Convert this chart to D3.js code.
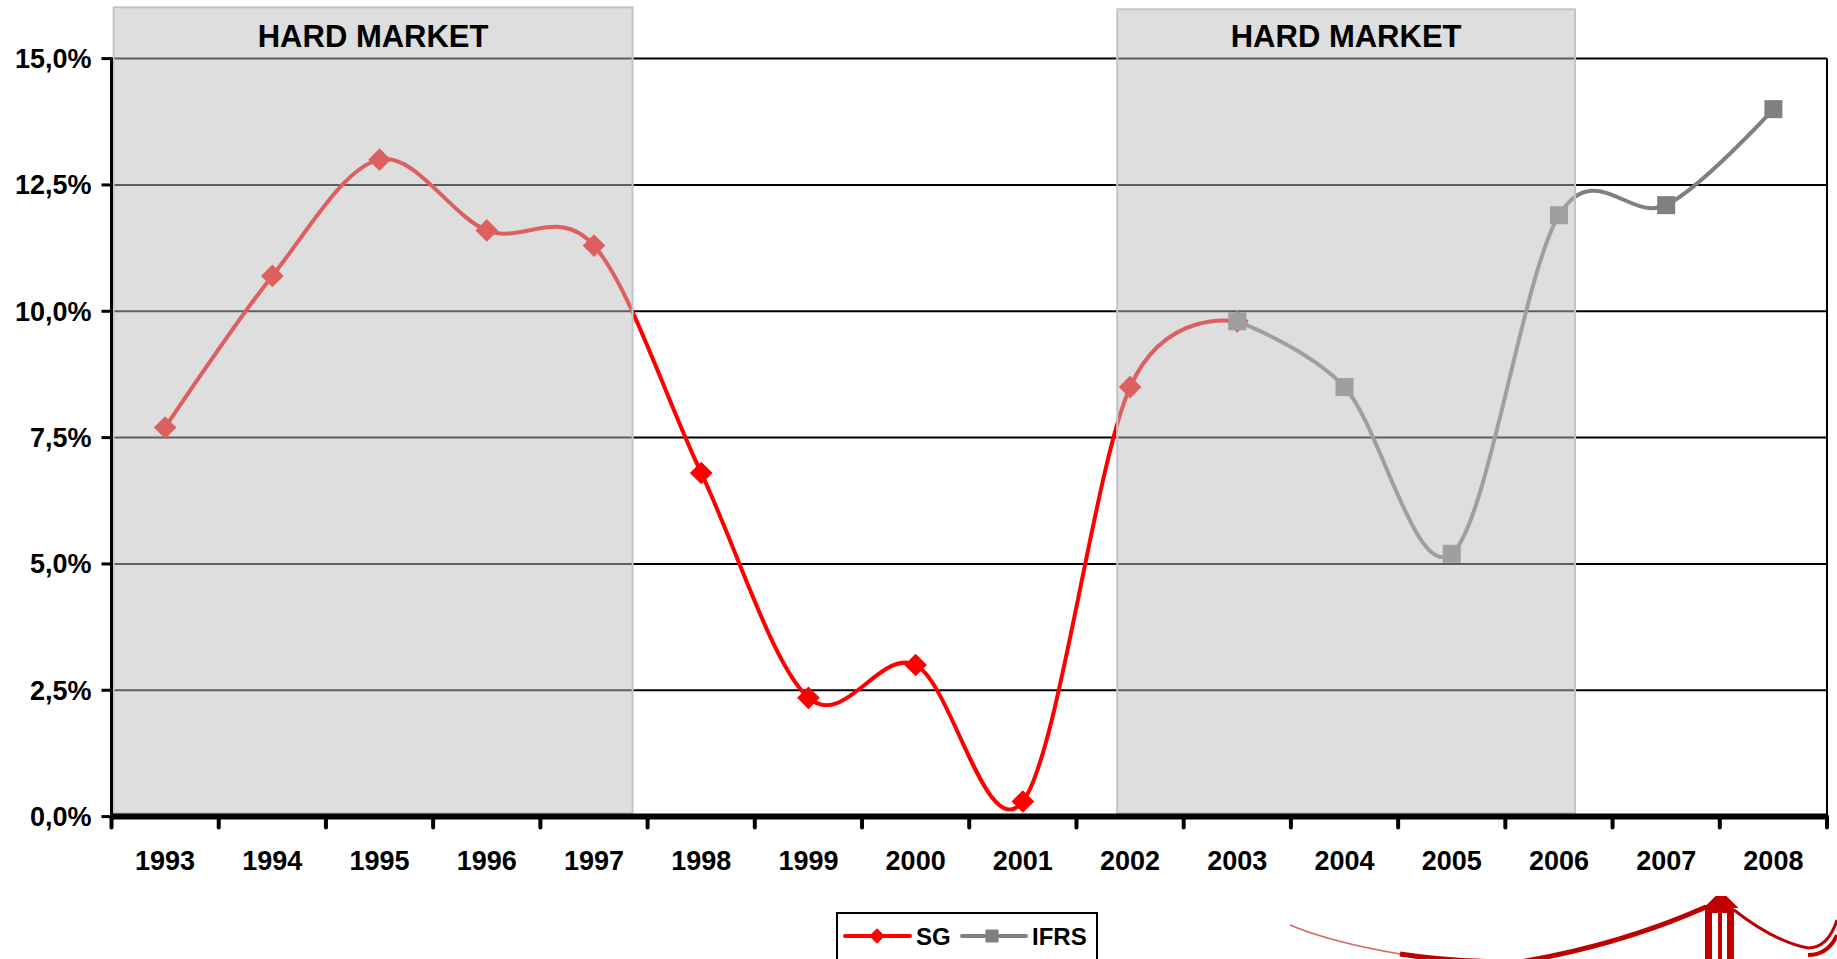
<!DOCTYPE html>
<html>
<head>
<meta charset="utf-8">
<script src="https://cdn.jsdelivr.net/npm/d3@7"></script>
<style>
  html, body { margin: 0; padding: 0; background: #fff; overflow: hidden; }
  svg { display: block; }
  text { font-family: "Liberation Sans", Arial, sans-serif; font-weight: bold; fill: #000; }
</style>
</head>
<body>
<svg id="chart" width="1837" height="959"></svg>
<script>
// ---------- data ----------
const years = ["1993","1994","1995","1996","1997","1998","1999","2000","2001","2002","2003","2004","2005","2006","2007","2008"];
const sgYears = ["1993","1994","1995","1996","1997","1998","1999","2000","2001","2002","2003"];
const sgValues = [7.7, 10.7, 13.0, 11.6, 11.3, 6.8, 2.35, 3.0, 0.3, 8.5, 9.8];
const ifrsYears = ["2003","2004","2005","2006","2007","2008"];
const ifrsValues = [9.8, 8.5, 5.2, 11.9, 12.1, 14.0];
const yTicks = [0, 2.5, 5, 7.5, 10, 12.5, 15];
const seriesNames = ["SG", "IFRS"];
// hard-market periods, in category-index units (0 = 1993)
const hardMarketFrom = [-0.48, 8.88];
const hardMarketTo = [4.36, 13.15];
const hardMarketLabel = "HARD MARKET";

// ---------- layout ----------
(function () {
const svg = d3.select("#chart");
const pLeft = 111.5, pRight = 1827, pTop = 58.6, pBottom = 816.6;
const xi = d3.scaleLinear().domain([-0.5, years.length - 0.5]).range([pLeft, pRight]);
const xYear = yr => xi(years.indexOf(yr));
const y = d3.scaleLinear().domain([0, 15]).range([pBottom, pTop]);
const loc = d3.formatLocale({decimal: ",", thousands: ".", grouping: [3], currency: ["", "€"]});
const fmt = v => loc.format(".1f")(v) + "%";

// gridlines
svg.append("g").selectAll("line").data(yTicks.filter(d => d > 0)).join("line")
  .attr("x1", pLeft).attr("x2", pRight)
  .attr("y1", d => y(d)).attr("y2", d => y(d))
  .attr("stroke", "#000").attr("stroke-width", 2);
// right border
svg.append("line").attr("x1", pRight).attr("x2", pRight).attr("y1", y(15)).attr("y2", pBottom)
  .attr("stroke", "#000").attr("stroke-width", 2);

// series
const curve = d3.curveCardinal.tension(0);
const line = d3.line().x(d => xYear(d[0])).y(d => y(d[1])).curve(curve);
const sgData = sgYears.map((yr, i) => [yr, sgValues[i]]);
const ifrsData = ifrsYears.map((yr, i) => [yr, ifrsValues[i]]);

svg.append("path").datum(sgData).attr("d", line)
  .attr("fill", "none").attr("stroke", "#ff0000").attr("stroke-width", 4).attr("stroke-linejoin", "round");
svg.append("g").selectAll("rect").data(sgData).join("rect")
  .attr("x", -8).attr("y", -8).attr("width", 16).attr("height", 16)
  .attr("transform", d => `translate(${xYear(d[0])},${y(d[1])}) rotate(45)`)
  .attr("fill", "#ff0000");

svg.append("path").datum(ifrsData).attr("d", line)
  .attr("fill", "none").attr("stroke", "#808080").attr("stroke-width", 4).attr("stroke-linejoin", "round");
svg.append("g").selectAll("rect").data(ifrsData).join("rect")
  .attr("x", d => xYear(d[0]) - 9).attr("y", d => y(d[1]) - 9)
  .attr("width", 18).attr("height", 18)
  .attr("fill", "#808080");

// hard-market overlays
const shadeTop = [7.3, 9.3];
const shadeBottom = 813;
hardMarketFrom.forEach((f, i) => {
  const x0 = xi(f), x1 = xi(hardMarketTo[i]);
  svg.append("rect")
    .attr("x", x0).attr("y", shadeTop[i])
    .attr("width", x1 - x0).attr("height", shadeBottom - shadeTop[i])
    .attr("fill", "rgb(190,190,190)").attr("fill-opacity", 0.5)
    .attr("stroke", "#c4c4c4").attr("stroke-width", 2);
  svg.append("text")
    .attr("x", (x0 + x1) / 2).attr("y", 46.5)
    .attr("text-anchor", "middle")
    .attr("font-size", 31)
    .text(hardMarketLabel);
});

// y axis
const yAxis = svg.append("g");
yAxis.append("line").attr("x1", pLeft).attr("x2", pLeft).attr("y1", pTop - 1).attr("y2", pBottom)
  .attr("stroke", "#000").attr("stroke-width", 3);
yAxis.selectAll("line.tk").data(yTicks).join("line").attr("class", "tk")
  .attr("x1", pLeft - 10).attr("x2", pLeft)
  .attr("y1", d => y(d)).attr("y2", d => y(d))
  .attr("stroke", "#000").attr("stroke-width", 3);
yAxis.selectAll("text").data(yTicks).join("text")
  .attr("x", 91.5).attr("y", d => y(d)).attr("dy", "0.35em")
  .attr("text-anchor", "end").attr("font-size", 27)
  .text(fmt);

// x axis
const xAxis = svg.append("g");
const boundaries = d3.range(years.length + 1).map(i => i - 0.5);
xAxis.selectAll("line.tk").data(boundaries).join("line").attr("class", "tk")
  .attr("x1", d => xi(d)).attr("x2", d => xi(d))
  .attr("y1", pBottom).attr("y2", pBottom + 11)
  .attr("stroke", "#000").attr("stroke-width", 4).attr("stroke-linecap", "round");
xAxis.append("line").attr("x1", pLeft).attr("x2", pRight).attr("y1", pBottom).attr("y2", pBottom)
  .attr("stroke", "#000").attr("stroke-width", 6);
xAxis.selectAll("text").data(years).join("text")
  .attr("x", d => xYear(d)).attr("y", 870)
  .attr("text-anchor", "middle").attr("font-size", 27)
  .text(d => d);

// legend
const lg = svg.append("g");
lg.append("rect").attr("x", 837).attr("y", 913).attr("width", 260).attr("height", 80)
  .attr("fill", "#fff").attr("stroke", "#000").attr("stroke-width", 2);
lg.append("line").attr("x1", 845).attr("x2", 910).attr("y1", 936).attr("y2", 936)
  .attr("stroke", "#ff0000").attr("stroke-width", 4).attr("stroke-linecap", "round");
lg.append("rect").attr("x", -5.5).attr("y", -5.5).attr("width", 11).attr("height", 11)
  .attr("transform", "translate(877,936) rotate(45)").attr("fill", "#ff0000");
lg.append("text").attr("x", 916).attr("y", 945).attr("font-size", 24).text(seriesNames[0]);
lg.append("line").attr("x1", 962).attr("x2", 1026).attr("y1", 936).attr("y2", 936)
  .attr("stroke", "#808080").attr("stroke-width", 4).attr("stroke-linecap", "round");
lg.append("rect").attr("x", 985.5).attr("y", 929.5).attr("width", 13).attr("height", 13).attr("fill", "#808080");
lg.append("text").attr("x", 1032).attr("y", 945).attr("font-size", 24).text(seriesNames[1]);

// decorative bridge logo (bottom right)
const logo = svg.append("g").attr("fill", "none").attr("stroke", "#c00000");
logo.append("path").attr("d", "M1290,925 Q1330,942 1400,954").attr("stroke-width", 1.5).attr("stroke-opacity", 0.6);
logo.append("path").attr("d", "M1400,954 Q1450,962 1520,962 Q1620,945 1706,907").attr("stroke-width", 5);
logo.append("path").attr("d", "M1706,907 L1716,897 L1726,897 L1736,907 Z").attr("fill", "#c00000").attr("stroke-width", 2);
logo.append("rect").attr("x", 1705).attr("y", 905).attr("width", 29).attr("height", 8).attr("fill", "#c00000").attr("stroke", "none");
logo.append("rect").attr("x", 1705).attr("y", 912).attr("width", 7).attr("height", 50).attr("fill", "#c00000").attr("stroke", "none");
logo.append("rect").attr("x", 1718).attr("y", 912).attr("width", 4).attr("height", 50).attr("fill", "#c00000").attr("stroke", "none");
logo.append("rect").attr("x", 1727).attr("y", 912).attr("width", 7).attr("height", 50).attr("fill", "#c00000").attr("stroke", "none");
logo.append("path").attr("d", "M1734,910 Q1775,942 1808,948 Q1828,948 1837,920").attr("stroke-width", 3);
logo.append("path").attr("d", "M1808,955 Q1828,955 1837,935").attr("stroke-width", 4);
})();
</script>
</body>
</html>
